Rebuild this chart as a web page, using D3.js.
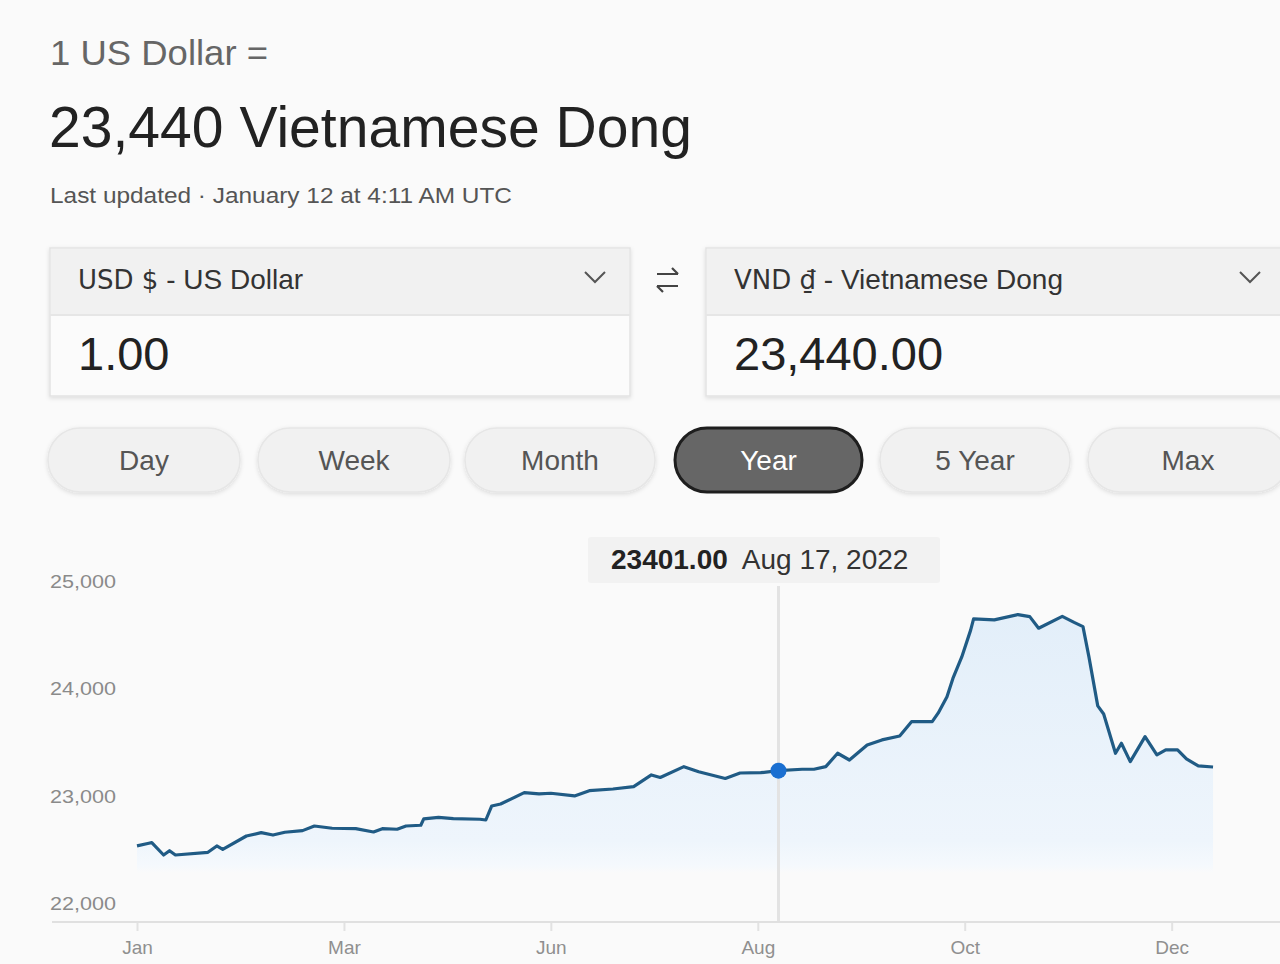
<!DOCTYPE html>
<html>
<head>
<meta charset="utf-8">
<script src="https://cdn.jsdelivr.net/npm/d3@7"></script>
<style>
  html, body { margin: 0; padding: 0; background: #fafafa; }
  svg { display: block; font-family: "Liberation Sans", Arial, sans-serif; }
</style>
</head>
<body>
<svg id="chart" width="1280" height="964"></svg>
<script>
// ---- data ----
const dates = [
  "2022-01-12","2022-01-16","2022-01-17","2022-01-21","2022-01-23","2022-01-25","2022-02-05","2022-02-08",
  "2022-02-10","2022-02-18","2022-02-23","2022-02-27","2022-03-03","2022-03-09","2022-03-13","2022-03-19",
  "2022-03-27","2022-04-02","2022-04-05","2022-04-10","2022-04-13","2022-04-18","2022-04-19","2022-04-24",
  "2022-04-29","2022-05-08","2022-05-10","2022-05-12","2022-05-15","2022-05-23","2022-05-28","2022-06-01",
  "2022-06-09","2022-06-14","2022-06-22","2022-06-29","2022-07-05","2022-07-08","2022-07-16","2022-07-21",
  "2022-07-30","2022-08-04","2022-08-11","2022-08-17","2022-08-25","2022-08-29","2022-09-02","2022-09-06",
  "2022-09-10","2022-09-16","2022-09-21","2022-09-27","2022-10-01","2022-10-08","2022-10-10","2022-10-13",
  "2022-10-15","2022-10-18","2022-10-21","2022-10-22","2022-10-29","2022-11-06","2022-11-10","2022-11-13",
  "2022-11-21","2022-11-25","2022-11-28","2022-11-30","2022-12-03","2022-12-05","2022-12-09","2022-12-11",
  "2022-12-14","2022-12-19","2022-12-23","2022-12-26","2022-12-30","2023-01-02","2023-01-06","2023-01-11"
];
const rates = [
  22700,22724,22730,22615,22655,22615,22640,22699,
  22668,22792,22823,22801,22827,22842,22885,22864,
  22860,22829,22860,22855,22885,22892,22951,22966,
  22953,22948,22941,23072,23090,23196,23184,23190,
  23165,23214,23230,23252,23361,23337,23438,23391,
  23328,23379,23382,23401,23414,23414,23438,23563,
  23500,23640,23687,23724,23857,23857,23936,24090,
  24260,24460,24710,24815,24805,24855,24836,24728,
  24838,24782,24743,24463,24004,23929,23563,23656,
  23485,23718,23547,23594,23594,23510,23445,23435
];
const yTicks = [22000, 23000, 24000, 25000];
const xTickDates = ["2022-01-12","2022-03-23","2022-06-01","2022-08-10","2022-10-19","2022-12-28"];
const xDomain = ["2022-01-12","2023-01-12"];
const hoverDate = "2022-08-17";
const hoverValue = 23401.00;

const headerLine1 = "1 US Dollar =";
const headerLine2 = "23,440 Vietnamese Dong";
const updatedText = "Last updated · January 12 at 4:11 AM UTC";
const fromLabel = ["USD $", " - US Dollar"];
const toLabel = ["VND ₫", " - Vietnamese Dong"];
const fromAmount = "1.00";
const toAmount = "23,440.00";
const rangeButtons = ["Day","Week","Month","Year","5 Year","Max"];
const activeButton = "Year";

// ---- setup ----
const parse = d3.timeParse("%Y-%m-%d");
const data = dates.map((d, i) => ({ date: parse(d), value: rates[i] }));
const svg = d3.select("#chart");

svg.append("rect").attr("width", 1280).attr("height", 964).attr("fill", "#fafafa");

const defs = svg.append("defs");
const sh = defs.append("filter").attr("id", "shadow").attr("x", "-5%").attr("y", "-10%").attr("width", "110%").attr("height", "130%");
sh.append("feDropShadow").attr("dx", 0).attr("dy", 1.5).attr("stdDeviation", 2).attr("flood-color", "#000").attr("flood-opacity", 0.12);

// ---- header texts ----
svg.append("text").attr("x", 50).attr("y", 65).attr("font-size", 35).attr("fill", "#666")
  .attr("textLength", 218).attr("lengthAdjust", "spacingAndGlyphs").text(headerLine1);
svg.append("text").attr("x", 49).attr("y", 147).attr("font-size", 58).attr("fill", "#222")
  .attr("textLength", 643).attr("lengthAdjust", "spacingAndGlyphs").text(headerLine2);
svg.append("text").attr("x", 50).attr("y", 203).attr("font-size", 22).attr("fill", "#555")
  .attr("textLength", 462).attr("lengthAdjust", "spacingAndGlyphs").text(updatedText);

// ---- converter boxes ----
function box(x, label, amount, chevX) {
  const g = svg.append("g");
  g.append("rect").attr("x", x).attr("y", 248).attr("width", 580).attr("height", 148)
    .attr("fill", "#fbfbfb").attr("stroke", "#e3e3e3").attr("stroke-width", 1.5).attr("filter", "url(#shadow)");
  g.append("rect").attr("x", x + 1).attr("y", 249).attr("width", 578).attr("height", 66).attr("fill", "#f1f1f1");
  g.append("line").attr("x1", x).attr("x2", x + 580).attr("y1", 315).attr("y2", 315).attr("stroke", "#e6e6e6").attr("stroke-width", 2);
  const t = g.append("text").attr("x", x + 28).attr("y", 289).attr("font-size", 28).attr("fill", "#333");
  t.append("tspan").attr("font-family", "DejaVu Sans, Liberation Sans, sans-serif").attr("font-size", 26).text(label[0]);
  t.append("tspan").text(label[1]);
  g.append("text").attr("x", x + 28).attr("y", 370).attr("font-size", 47).attr("fill", "#222").text(amount);
  g.append("path").attr("d", `M${chevX - 10},${272} L${chevX},${282} L${chevX + 10},${272}`)
    .attr("fill", "none").attr("stroke", "#555").attr("stroke-width", 2);
}
box(50, fromLabel, fromAmount, 595);
box(706, toLabel, toAmount, 1250);

// swap icon
const sw = svg.append("g").attr("stroke", "#444").attr("stroke-width", 2.2).attr("fill", "none");
sw.append("path").attr("d", "M657,274 L678,274 M672,268 L678,274");
sw.append("path").attr("d", "M678,286 L657,286 M663,292 L657,286");

// ---- range buttons ----
const btnX = [48, 258, 465, 675, 880, 1088];
const btnW = [192, 192, 190, 187, 190, 200];
rangeButtons.forEach((b, i) => {
  const active = b === activeButton;
  svg.append("rect").attr("x", btnX[i]).attr("y", 428).attr("width", btnW[i]).attr("height", 64).attr("rx", 32)
    .attr("fill", active ? "#666" : "#f1f1f1").attr("stroke", active ? "#1e1e1e" : "#e6e6e6")
    .attr("stroke-width", active ? 3 : 1.5).attr("filter", active ? null : "url(#shadow)");
  svg.append("text").attr("x", btnX[i] + btnW[i] / 2).attr("y", 470).attr("text-anchor", "middle")
    .attr("font-size", 28).attr("fill", active ? "#fff" : "#555").text(b);
});

// ---- chart ----
const x = d3.scaleTime().domain(xDomain.map(parse)).range([137, 1216]);
const y = d3.scaleLinear().domain([22000, 25000]).range([921, 599]);

const grad = defs.append("linearGradient").attr("id", "areaGrad").attr("gradientUnits", "userSpaceOnUse")
  .attr("x1", 0).attr("x2", 0).attr("y1", y(25000)).attr("y2", y(22000));
grad.append("stop").attr("offset", "0%").attr("stop-color", "#e2eef9");
grad.append("stop").attr("offset", "75%").attr("stop-color", "#eef5fc");
grad.append("stop").attr("offset", "83%").attr("stop-color", "#f5f9fd");
grad.append("stop").attr("offset", "85%").attr("stop-color", "#fafafa");
grad.append("stop").attr("offset", "100%").attr("stop-color", "#fafafa");

svg.append("path").datum(data)
  .attr("d", d3.area().x(d => x(d.date)).y0(y(22000)).y1(d => y(d.value)))
  .attr("fill", "url(#areaGrad)");

// y tick labels
svg.append("g").selectAll("text").data(yTicks).join("text")
  .attr("x", 50).attr("y", d => y(d) - 11).attr("font-size", 19).attr("fill", "#8a8a8a")
  .attr("textLength", 66).attr("lengthAdjust", "spacingAndGlyphs")
  .text(d3.format(","));

// x axis
const xAxis = d3.axisBottom(x).tickValues(xTickDates.map(parse)).tickFormat(d3.timeFormat("%b")).tickSize(9).tickPadding(10);
const gx = svg.append("g").attr("transform", `translate(0,${y(22000) + 1})`).call(xAxis);
gx.select(".domain").remove();
gx.selectAll(".tick line").attr("stroke", "#e2e2e2").attr("stroke-width", 2);
gx.selectAll(".tick text").attr("font-size", 19).attr("fill", "#8f8f8f").attr("font-family", "Liberation Sans, Arial, sans-serif");
svg.append("line").attr("x1", 52).attr("x2", 1280).attr("y1", y(22000) + 1).attr("y2", y(22000) + 1)
  .attr("stroke", "#e0e0e0").attr("stroke-width", 2);

// hover line
const hx = x(parse(hoverDate));
svg.append("line").attr("x1", hx).attr("x2", hx).attr("y1", 586).attr("y2", y(22000))
  .attr("stroke", "#e3e3e3").attr("stroke-width", 3);

// line
svg.append("path").datum(data)
  .attr("d", d3.line().x(d => x(d.date)).y(d => y(d.value)))
  .attr("fill", "none").attr("stroke", "#205b85").attr("stroke-width", 3.2).attr("stroke-linejoin", "round");

// hover dot
svg.append("circle").attr("cx", hx).attr("cy", y(hoverValue)).attr("r", 8).attr("fill", "#1a6fd1");

// tooltip
svg.append("rect").attr("x", 588).attr("y", 537).attr("width", 352).attr("height", 46).attr("rx", 3)
  .attr("fill", "#f2f2f2");
const tt = svg.append("text").attr("x", 611).attr("y", 569).attr("font-size", 28).attr("fill", "#222");
tt.append("tspan").attr("font-weight", "bold").text(d3.format(".2f")(hoverValue));
tt.append("tspan").attr("dx", 14).attr("fill", "#333").text(d3.timeFormat("%b %-d, %Y")(parse(hoverDate)));
</script>
</body>
</html>
